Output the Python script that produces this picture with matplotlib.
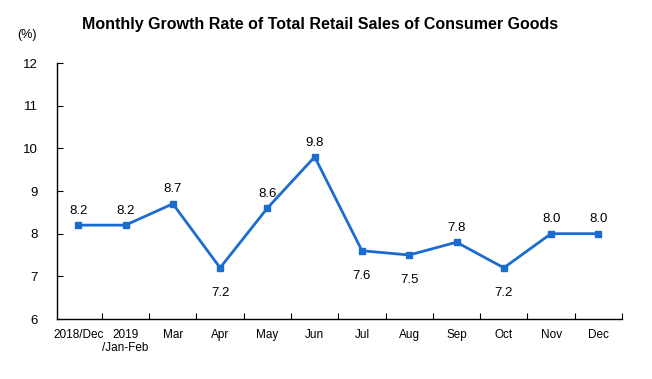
import matplotlib
matplotlib.use("Agg")
import matplotlib.pyplot as plt
from matplotlib import font_manager

names = {f.name for f in font_manager.fontManager.ttflist}
narrow = "Liberation Sans Narrow" if "Liberation Sans Narrow" in names else "Liberation Sans"
plt.rcParams['font.family'] = [narrow, 'DejaVu Sans']

categories = ["2018/Dec", "2019\n/Jan-Feb", "Mar", "Apr", "May", "Jun",
              "Jul", "Aug", "Sep", "Oct", "Nov", "Dec"]
values = [8.2, 8.2, 8.7, 7.2, 8.6, 9.8, 7.6, 7.5, 7.8, 7.2, 8.0, 8.0]
label_below = [False, False, False, True, False, False, True, True, False, True, False, False]
yticks = [6, 7, 8, 9, 10, 11, 12]

fig = plt.figure(figsize=(6.52, 3.79), dpi=100)
ax = fig.add_axes([57/652, 1-319/379, 565/652, 256/379])
x = list(range(len(values)))
color = "#1C6CD0"
ax.plot(x, values, color=color, lw=2, marker="s", ms=4.5, mfc=color, mec=color)
for xi, v, b in zip(x, values, label_below):
    if b:
        ax.annotate(f"{v:.1f}", (xi, v), xytext=(0, -14), textcoords="offset points",
                    ha="center", va="top", fontsize=9.5, family="Liberation Sans")
    else:
        ax.annotate(f"{v:.1f}", (xi, v), xytext=(0, 6), textcoords="offset points",
                    ha="center", va="bottom", fontsize=9.5, family="Liberation Sans")

ax.set_xlim(-0.45, len(values) - 0.5)
ax.set_ylim(6, 12)
ax.set_yticks(yticks)
ax.set_yticklabels([str(t) for t in yticks], fontsize=9.5, family="Liberation Sans")
ax.set_xticks([i + 0.5 for i in range(len(values))], minor=False)
ax.set_xticklabels([])
ax.set_xticks(x, minor=True)
ax.set_xticklabels(categories, minor=True, fontsize=8.5, va="top", linespacing=1.1)
ax.tick_params(axis="x", which="major", direction="in", length=4, width=0.8)
ax.tick_params(axis="x", which="minor", length=0, pad=7)
ax.tick_params(axis="y", direction="in", length=4, width=0.8, pad=14)
for s in ["top", "right"]:
    ax.spines[s].set_visible(False)
ax.spines["left"].set_linewidth(1.0)
ax.spines["bottom"].set_linewidth(1.0)

fig.text(320/652, 1-25/379, "Monthly Growth Rate of Total Retail Sales of Consumer Goods",
         ha="center", va="center", fontsize=11.5, fontweight="bold", family="Liberation Sans")
fig.text(27/652, 1-35/379, "(%)", ha="center", va="center", fontsize=9, family=narrow)

fig.savefig("out.png", dpi=100)
